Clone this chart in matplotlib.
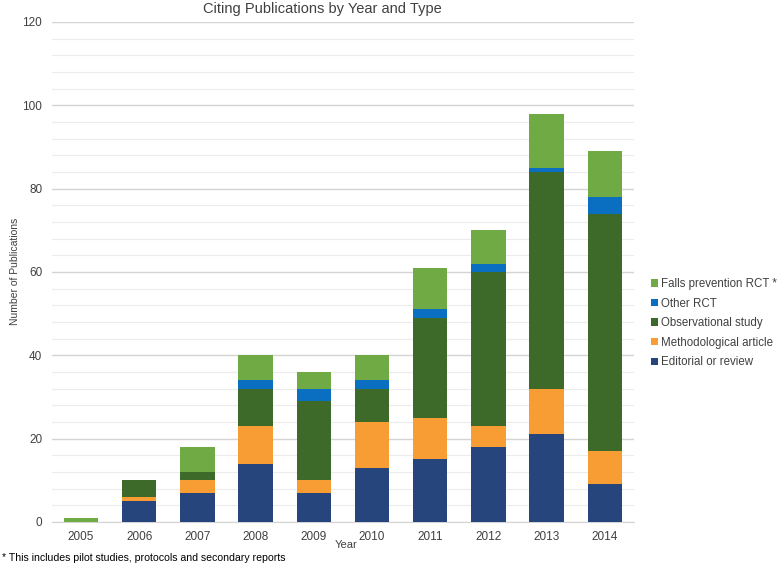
import matplotlib
matplotlib.use("Agg")
import matplotlib.pyplot as plt
import numpy as np

plt.rcParams['font.family'] = ['Liberation Sans', 'DejaVu Sans']

years = ['2005', '2006', '2007', '2008', '2009', '2010', '2011', '2012', '2013', '2014']
editorial = [0, 5, 7, 14, 7, 13, 15, 18, 21, 9]
methodological = [0, 1, 3, 9, 3, 11, 10, 5, 11, 8]
observational = [0, 4, 2, 9, 19, 8, 24, 37, 52, 57]
other_rct = [0, 0, 0, 2, 3, 2, 2, 2, 1, 4]
falls_rct = [1, 0, 6, 6, 4, 6, 10, 8, 13, 11]

series = [
    ('Editorial or review', editorial, '#25457C'),
    ('Methodological article', methodological, '#F89C34'),
    ('Observational study', observational, '#3D6A29'),
    ('Other RCT', other_rct, '#0A6FC0'),
    ('Falls prevention RCT *', falls_rct, '#6FAA45'),
]

fig = plt.figure(figsize=(7.78, 5.64), dpi=100)
ax = fig.add_axes([0.0668, 0.0745, 0.748, 0.8865])

x = np.arange(len(years))
bottom = np.zeros(len(years))
handles = []
for name, vals, col in series:
    v = np.array(vals, dtype=float)
    b = ax.bar(x, v, bottom=bottom, width=0.59, color=col, label=name, zorder=3)
    handles.append(b)
    bottom += v

ax.set_xlim(-0.5, len(years) - 0.5)
ax.set_ylim(0, 120)
ax.set_yticks(np.arange(0, 121, 20))
ax.set_yticks(np.arange(0, 121, 4), minor=True)
ax.set_xticks(x)
ax.set_xticklabels(years)
ax.grid(axis='y', which='major', color='#d4d4d4', linewidth=1.0, zorder=0)
ax.grid(axis='y', which='minor', color='#ececec', linewidth=0.8, zorder=0)
for s in ['top', 'right', 'left']:
    ax.spines[s].set_visible(False)
ax.spines['bottom'].set_color('#d4d4d4')
ax.tick_params(axis='both', which='both', length=0, labelsize=8.5, colors='#404040', pad=6.5)
ax.tick_params(axis='y', pad=7)

fig.text(0.415, 0.996, 'Citing Publications by Year and Type', ha='center', va='top',
         fontsize=10.5, color='#404040')
fig.text(0.019, 0.518, 'Number of Publications', rotation=90, ha='center', va='center',
         fontsize=7.5, color='#404040')
fig.text(0.445, 0.034, 'Year', ha='center', va='center', fontsize=8, color='#404040')
fig.text(0.002, 0.010, '* This includes pilot studies, protocols and secondary reports',
         ha='left', va='center', fontsize=7.6, color='#000000')

leg = fig.legend(handles[::-1], [s[0] for s in series][::-1], loc='center left',
                 bbox_to_anchor=(0.823, 0.427), frameon=False, fontsize=8.3,
                 handlelength=0.6, handleheight=0.6, handletextpad=0.3, labelspacing=0.66)
for t in leg.get_texts():
    t.set_color('#404040')

fig.savefig('out.png', dpi=100)
